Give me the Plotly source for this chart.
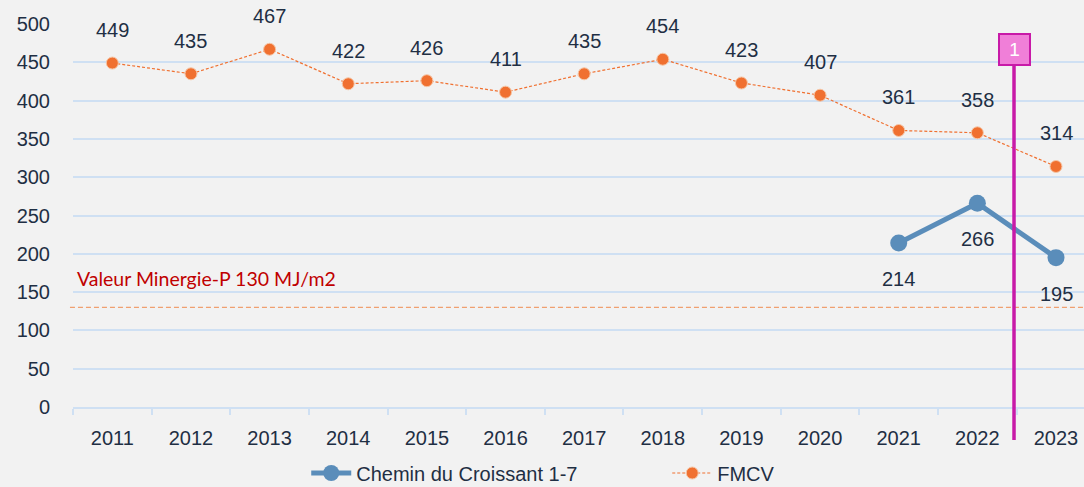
import plotly.graph_objects as go

years = ["2011", "2012", "2013", "2014", "2015", "2016", "2017", "2018", "2019", "2020", "2021", "2022", "2023"]
fmcv = [449, 435, 467, 422, 426, 411, 435, 454, 423, 407, 361, 358, 314]
chemin_years = ["2021", "2022", "2023"]
chemin = [214, 266, 195]
minergie_value = 130
minergie_label = "Valeur Minergie-P 130 MJ/m2"
y_ticks = [0, 50, 100, 150, 200, 250, 300, 350, 400, 450, 500]

txt_col = "#1f2f44"
grid_col = "#cfe0f3"
orange = "#f07030"
blue = "#5a8dba"
magenta = "#c81aa8"

fig = go.Figure()
fig.add_trace(go.Scatter(
    x=chemin_years, y=chemin, name="Chemin du Croissant 1-7", mode="lines+markers",
    line=dict(color=blue, width=5), marker=dict(size=17, color=blue),
))
fig.add_trace(go.Scatter(
    x=years, y=fmcv, name="FMCV", mode="lines+markers",
    line=dict(color=orange, width=1.2, dash="3px,2px"),
    marker=dict(size=12, color=orange, line=dict(color="#f6c6a6", width=1)),
))

annotations = []
for yr, v in zip(years, fmcv):
    annotations.append(dict(x=years.index(yr), y=v, text=str(v), showarrow=False, yshift=33,
                            font=dict(size=20, color=txt_col, family="Liberation Sans")))
for yr, v in zip(chemin_years, chemin):
    annotations.append(dict(x=years.index(yr), y=v, text=str(v), showarrow=False, yshift=-36,
                            font=dict(size=20, color=txt_col, family="Liberation Sans")))
annotations.append(dict(x=0, xref="paper", xanchor="left", xshift=2, y=minergie_value, yshift=29,
                        text=minergie_label, showarrow=False,
                        font=dict(size=19.5, color="#c00000", family="Lato")))
# marker "1"
annotations.append(dict(x=11.466, y=1, yref="paper", yanchor="middle", yshift=-25,
                        text=" 1 ", showarrow=False,
                        font=dict(size=19, color="white", family="Liberation Sans"),
                        bgcolor="#f07fd8", bordercolor=magenta, borderwidth=2, borderpad=4))

shapes = [
    dict(type="line", xref="paper", x0=-0.003, x1=1, yref="y", y0=minergie_value, y1=minergie_value,
         line=dict(color="#f0a070", width=1.2, dash="5px,3px")),
    dict(type="line", xref="x", x0=11.466, x1=11.466, yref="paper", y0=-0.086, y1=0.95,
         line=dict(color=magenta, width=3.5)),
]

fig.update_layout(
    width=1084, height=487,
    paper_bgcolor="#f2f2f2", plot_bgcolor="#f2f2f2",
    margin=dict(l=73, r=0, t=24, b=80),
    font=dict(family="Liberation Sans", size=20, color=txt_col),
    showlegend=True,
    legend=dict(orientation="h", x=0.2307, xanchor="left",
                yref="container", y=0.0287, yanchor="middle",
                font=dict(size=20, color=txt_col, family="Liberation Sans"),
                bgcolor="rgba(0,0,0,0)", itemwidth=40, entrywidth=306),
    annotations=annotations,
    shapes=shapes,
)
fig.update_xaxes(
    type="category", categoryorder="array", categoryarray=years,
    range=[-0.5, 12.356], showgrid=False,
    showline=True, linecolor=grid_col, linewidth=2,
    ticks="outside", tickson="boundaries", tickcolor=grid_col, ticklen=6, tickwidth=2,
    tickfont=dict(size=20, color=txt_col), ticklabelstandoff=12,
)
fig.update_yaxes(
    range=[0, 500], tickvals=y_ticks, showgrid=True, gridcolor=grid_col, gridwidth=2,
    zeroline=False, showline=False, ticks="outside", ticklen=0,
    tickfont=dict(size=20, color=txt_col), ticklabelstandoff=18,
)

fig.write_html("out.html", config={"displayModeBar": False},
               post_script="document.body.style.margin='0';document.body.style.overflow='hidden';")
